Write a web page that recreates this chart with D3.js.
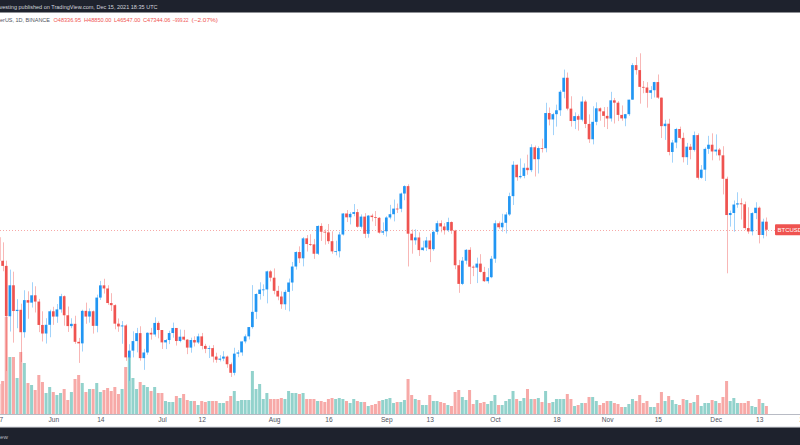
<!DOCTYPE html>
<html><head><meta charset="utf-8">
<script src="https://cdn.jsdelivr.net/npm/d3@7"></script>
<style>html,body{margin:0;padding:0;background:#fff;overflow:hidden}svg{display:block}</style>
</head><body><svg id="c" width="800" height="445"></svg>
<script>
// ---- DATA: BTCUSDT daily, Binance, 2021-05-17 .. 2021-12-15 ----
const startDate = "2021-05-17";
const opens = [
 46430,43540,42910,36730,40530,37370,37520,34770,38710,38400,39300,38530,35660,34610,35680,
 37340,36690,37570,39190,36850,35520,35800,33590,33400,37390,36690,37340,35550,39020,40520,40140,38350,38090,35820,35480,35600,31680,32510,33680,34660,31590,32280,34700,34490,35910,
 35040,33520,33810,34670,35290,33690,34220,33860,32880,33810,33510,34260,33090,32730,32820,31780,31390,31530,31780,30840,29790,32140,32290,33640,34260,35400,37270,39460,40000,40020,42240,
 41460,39850,39150,38200,39720,40870,42830,44610,43840,46290,45590,45550,44400,47810,47100,47020,45940,44690,44710,46760,49340,48870,49290,49510,47710,48960,46850,49080,48900,48810,46990,
 47160,48850,49250,49940,49920,51790,52700,46860,46050,46400,44850,45160,46030,44960,47090,48150,47750,47290,48290,47240,42990,40700,43550,44880,42810,42700,43190,42170,41030,41520,
 43790,48140,47650,48200,49220,51470,55320,53790,53950,54950,54660,57470,56000,57370,57350,61670,60880,61530,62010,64280,66000,62210,60690,61290,60850,63080,60330,58450,60590,62250,61880,
 61320,61000,63230,62940,61440,61010,61530,63310,67550,66940,64880,64800,64150,64470,65470,63560,60060,60360,56890,58050,59710,58620,56250,57540,57140,58960,53720,54720,57270,57780,
 56950,57180,56480,53600,49150,49400,50440,50590,50470,47550,47140,49390,50050,46700,48336.95
];
const highs = [
 46640,45800,43550,42450,42200,38830,38270,39920,39790,40900,40410,38860,37340,36490,37530,
 37890,38230,39480,39290,37920,36480,36790,34070,37530,38400,37690,37440,39380,41060,41330,40530,39560,38200,36460,36140,35750,33300,34880,35300,35500,32730,34750,35300,36600,36100,
 35040,33940,34950,35950,35290,35100,35060,33920,34100,34270,34600,34680,33340,33120,33190,32250,31950,32440,31900,31040,32860,32580,33650,34500,35400,40550,39540,40900,40640,42320,42410,
 42600,40460,39780,39970,41350,43390,44700,45310,46450,46700,46800,46220,47890,48140,47390,48050,47160,46000,47090,49380,49760,49500,50500,49880,49230,49380,49150,49310,49640,48910,48250,
 49000,50400,51050,50560,51900,52800,52920,47380,47400,47030,45990,46460,46880,47250,48450,48500,48160,48820,48370,47340,43640,44000,44980,45200,42970,43920,44350,42790,42630,44130,
 48500,48360,49300,49500,51890,55750,55340,56100,55490,56560,57840,57680,57580,58520,62930,62350,61690,62700,64490,67000,66640,63730,61750,61490,63710,63290,61500,62500,62980,62360,62400,
 62420,64270,63520,63130,62600,61560,63290,67790,68530,69000,65600,65460,64970,65500,66400,63560,60840,60960,58370,59850,60000,59260,58000,57880,59400,59170,55280,57450,58870,59180,
 59050,57380,57600,53860,49700,50940,51940,51200,50800,50100,49490,50720,50200,48700,48850
];
const lows = [
 42000,42250,30000,34850,33490,35260,31110,34100,36420,37800,37190,34780,33630,33380,34150,
 35670,35920,37170,35570,34800,35260,33340,31000,32400,35800,35940,34600,34760,38730,39510,38120,37370,35130,34820,33350,31250,28800,31680,32300,31280,30150,32000,33860,34230,34020,
 32710,32700,33310,34100,33130,33530,33770,32080,32260,33020,33330,32660,32200,31600,31060,31020,31180,31210,30400,29280,29480,31710,31880,33400,33880,35210,36400,38770,39200,38310,41000,
 39420,38690,37640,37510,37330,39850,42450,43260,42850,44670,45350,43770,44250,45970,45520,45600,44400,44200,43950,46630,48290,48000,49000,47600,47500,46320,46370,48370,47800,46860,46700,
 46510,48630,48370,49400,49500,50970,42840,44410,45510,44130,44750,44740,43370,44750,46750,47020,46750,47060,46850,42500,39600,40550,43100,40680,41650,40800,42100,40930,40750,41400,
 43280,47440,47100,46890,49040,50380,53360,53620,53660,54090,54420,53880,54250,56820,56850,60150,58960,60000,61320,63480,62000,60000,59700,59510,60650,59820,58000,57820,60170,60720,59950,
 59700,60620,60380,60680,60720,60050,61320,63300,66380,62820,64100,62330,63400,63580,63400,58600,58370,56480,55580,57350,58470,55610,55300,55990,56940,53500,53610,53330,56660,55870,
 56460,55840,51680,42000,47730,47100,50040,48600,47320,46850,46650,48650,45670,46290,46547
];
const closes = [
 43540,42910,36730,40530,37370,37520,34770,38710,38400,39300,38530,35660,34610,35680,37340,
 36690,37570,39190,36850,35520,35800,33590,33400,37390,36690,37340,35550,39020,40520,40140,38350,38090,35820,35480,35600,31680,32510,33680,34660,31590,32280,34700,34490,35910,35040,
 33520,33810,34670,35290,33690,34220,33860,32880,33810,33510,34260,33090,32730,32820,31780,31390,31530,31780,30840,29790,32140,32290,33640,34260,35400,37270,39460,40000,40020,42240,41460,
 39850,39150,38200,39720,40870,42830,44610,43840,46290,45590,45550,44400,47810,47100,47020,45940,44690,44710,46760,49340,48870,49290,49510,47710,48960,46850,49080,48900,48810,46990,47160,
 48850,49250,49940,49920,51790,52700,46860,46050,46400,44850,45160,46030,44960,47090,48150,47750,47290,48290,47240,42990,40700,43550,44880,42810,42700,43190,42170,41030,41520,43790,
 48140,47650,48200,49220,51470,55320,53790,53950,54950,54660,57470,56000,57370,57350,61670,60880,61530,62010,64280,66000,62210,60690,61290,60850,63080,60330,58450,60590,62250,61880,61320,
 61000,63230,62940,61440,61010,61530,63310,67550,66940,64880,64800,64150,64470,65470,63560,60060,60360,56890,58050,59710,58620,56250,57540,57140,58960,53720,54720,57270,57780,56950,
 57180,56480,53600,49150,49400,50440,50590,50470,47550,47140,49390,50050,46700,48340,47344.06
];
// volume, thousand BTC
const volumes = [
 90,99,291,171,171,108,186,153,93,87,72,117,96,63,81,
 66,57,63,75,42,66,105,117,93,66,75,75,93,66,72,78,69,81,60,75,141,171,108,75,96,87,81,69,81,63,
 63,39,36,36,54,48,60,42,39,39,27,39,36,39,39,39,33,33,39,54,69,39,42,42,42,129,75,90,45,63,45,
 45,45,48,45,69,63,63,60,63,45,45,45,39,39,36,45,48,45,48,45,39,33,45,39,36,36,24,27,30,39,42,
 45,48,33,36,36,42,105,57,45,42,27,27,57,39,39,36,33,27,24,66,72,51,42,72,30,42,33,36,30,39,
 57,27,27,39,45,69,45,39,48,75,45,45,48,36,69,33,36,45,45,45,60,45,24,27,33,33,51,51,39,27,33,
 39,39,33,30,21,21,30,45,39,57,33,39,21,21,33,66,39,54,42,30,27,45,42,33,36,57,24,33,33,42,
 39,33,51,99,39,48,33,33,33,39,24,21,45,33,24
];
const tickDates  = ["2021-05-17","2021-06-01","2021-06-14","2021-07-01","2021-07-12","2021-08-01","2021-08-16","2021-09-01","2021-09-13","2021-10-01","2021-10-18","2021-11-01","2021-11-15","2021-12-01","2021-12-13","2021-12-25"];
const tickLabels = ["17","Jun","14","Jul","12","Aug","16","Sep","13","Oct","18","Nov","15","Dec","13","27"];
const symbolText = "erUS, 1D, BINANCE";
const ohlcText = ["O48336.95","H48850.00","L46547.00","C47344.06","\u2212999.22","(\u22122.07%)"];
const publishText = "vesting published on TradingView.com, Dec 15, 2021 18:35 UTC";
const priceLabel = "BTCUSDT";

// ---- CHART ----
const svg = d3.select("#c");
const FONT = "'Liberation Sans', Arial, sans-serif";
const UP = "#2196f3", DOWN = "#ef5350";
const parse = d3.utcParse("%Y-%m-%d");
const t0 = parse(startDate);
const dates = d3.utcDay.range(t0, d3.utcDay.offset(t0, closes.length));
const data = dates.map((d, i) => ({date: d, o: opens[i], h: highs[i], l: lows[i], c: closes[i], v: volumes[i]}));

const x = d3.scaleUtc().domain([parse("2021-06-01"), parse("2021-12-15")]).range([53.3, 766.4]);
const y = d3.scaleLinear().domain([42000, 69000]).range([273.3, 53.3]);
const yv = d3.scaleLinear().domain([0, 300]).range([414, 314]);

svg.append("rect").attr("width", 800).attr("height", 445).attr("fill", "#fff");

// volume
svg.append("g").selectAll("rect").data(data).join("rect")
  .attr("x", d => x(d.date) - 1.5).attr("width", 3)
  .attr("y", d => yv(d.v)).attr("height", d => yv(0) - yv(d.v))
  .attr("fill", d => d.c >= d.o ? "#26a69a" : "#ef5350").attr("fill-opacity", 0.5);

// last price line
const lastC = closes[closes.length - 1];
svg.append("line").attr("x1", 0).attr("x2", 775).attr("y1", Math.round(y(lastC)) + 0.5).attr("y2", Math.round(y(lastC)) + 0.5)
  .attr("stroke", DOWN).attr("stroke-opacity", 0.5).attr("stroke-width", 1).attr("stroke-dasharray", "1,2");

// wicks
svg.append("g").selectAll("line").data(data).join("line")
  .attr("x1", d => Math.round(x(d.date)) + 0.5).attr("x2", d => Math.round(x(d.date)) + 0.5)
  .attr("y1", d => y(d.h)).attr("y2", d => y(d.l))
  .attr("stroke", d => d.c >= d.o ? UP : DOWN).attr("stroke-opacity", 0.42).attr("stroke-width", 1);

// bodies
svg.append("g").selectAll("rect").data(data).join("rect")
  .attr("x", d => x(d.date) - 1.35).attr("width", 2.7)
  .attr("y", d => y(Math.max(d.o, d.c)))
  .attr("height", d => Math.max(0.8, Math.abs(y(d.o) - y(d.c))))
  .attr("fill", d => d.c >= d.o ? UP : DOWN);

// price label
svg.append("rect").attr("x", 775).attr("y", y(lastC) - 5.5).attr("width", 30).attr("height", 11).attr("rx", 1).attr("fill", DOWN);
svg.append("text").attr("x", 777.5).attr("y", y(lastC) + 2.2).attr("fill", "#fff")
  .attr("font-family", FONT).attr("font-size", 6).text(priceLabel);

// time axis
svg.append("line").attr("x1", 0).attr("x2", 800).attr("y1", 414.5).attr("y2", 414.5).attr("stroke", "#b8bbc4");
const axis = d3.axisBottom(x).tickValues(tickDates.map(parse)).tickFormat((d, i) => tickLabels[i]).tickSize(0).tickPadding(0);
const ag = svg.append("g").attr("transform", "translate(0,417)").call(axis);
ag.select(".domain").remove();
ag.selectAll("text").attr("font-family", FONT).attr("font-size", 6.6).attr("fill", "#50535e").attr("dy", "0.71em");
svg.append("line").attr("x1", 0).attr("x2", 800).attr("y1", 427).attr("y2", 427).attr("stroke", "#d1d4dc");

// top bar
svg.append("rect").attr("width", 800).attr("height", 12.5).attr("fill", "#1e222d");
svg.append("text").attr("x", -0.5).attr("y", 8.8).attr("fill", "#d1d4dc").attr("font-family", FONT).attr("font-size", 5.8)
  .attr("textLength", 158).attr("lengthAdjust", "spacingAndGlyphs").text(publishText);

// header line
svg.append("text").attr("x", 0).attr("y", 22).attr("fill", "#50535e").attr("font-family", FONT).attr("font-size", 5.6)
  .attr("textLength", 50).attr("lengthAdjust", "spacingAndGlyphs").text(symbolText);
const hx = [53.5, 84, 114, 143, 172.5, 191.5];
const hw = [27.5, 27.5, 26.5, 27.5, 16, 26.5];
ohlcText.forEach((t, i) => {
  svg.append("text").attr("x", hx[i]).attr("y", 22).attr("fill", DOWN).attr("font-family", FONT).attr("font-size", 5.6)
    .attr("textLength", hw[i]).attr("lengthAdjust", "spacingAndGlyphs").text(t);
});

// bottom bar
svg.append("rect").attr("y", 427.5).attr("width", 800).attr("height", 18).attr("fill", "#1e222d");
svg.append("text").attr("x", 0).attr("y", 439).attr("fill", "#b2b5be").attr("font-family", FONT).attr("font-size", 6.2).text("ew");
</script>
</body></html>
